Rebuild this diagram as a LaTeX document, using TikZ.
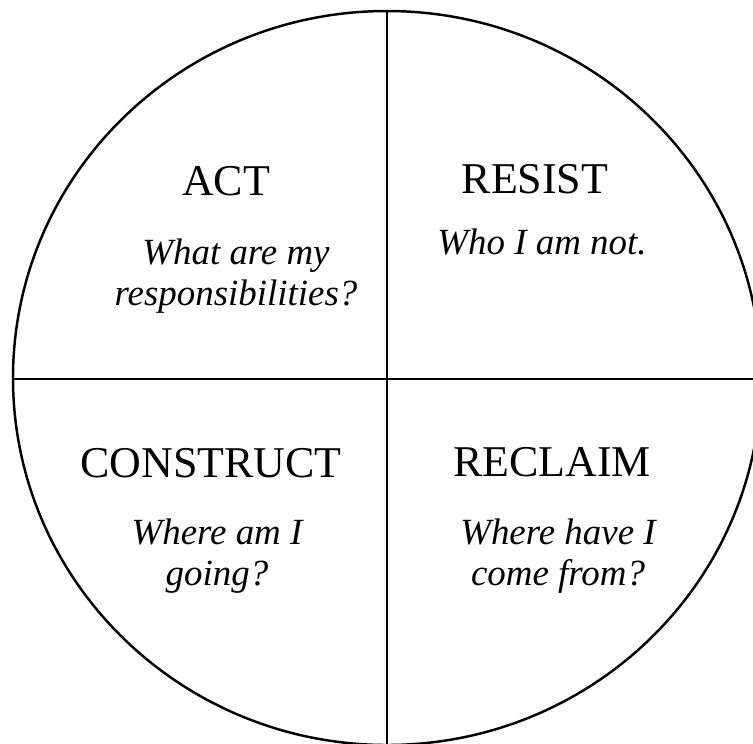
\documentclass[tikz,border=0pt]{standalone}
\usepackage{tikz}
\usepackage{fontspec}
\setmainfont{Liberation Serif}
\usetikzlibrary{positioning}

\begin{document}
\begin{tikzpicture}[x=0.01cm, y=-0.01cm,
  rim/.style={line width=0.7pt},
  heading/.style={font=\fontsize{12.5}{15}\selectfont, inner sep=0pt, anchor=base},
  question/.style={font=\fontsize{10.5}{11.4}\selectfont\itshape, align=center,
                   inner sep=0pt, anchor=base}
]
  \useasboundingbox (0,0) rectangle (753,744);
  \clip (0,0) rectangle (753,744);

  % circle and quadrants
  \draw[rim] (387,378) ellipse [x radius=374, y radius=367];
  \draw[rim] (387,11) -- (387,760);
  \draw[rim] (13,379) -- (770,379);

  \node[heading] (act)       at (226,195) {ACT};
  \node[heading] (resist)    at (535,193) {RESIST};
  \node[heading] (construct) at (211,477) {CONSTRUCT};
  \node[heading] (reclaim)   at (552,476) {RECLAIM};

  % base of a two-line node is its last line
  \node[question] (actq)       at (236,305) {What are my\\responsibilities?};
  \node[question] (resistq)    at (542,254) {Who I am not.};
  \node[question] (constructq) at (217,585) {Where am I\\going?};
  \node[question] (reclaimq)   at (558,585) {Where have I\\come from?};
\end{tikzpicture}
\end{document}
